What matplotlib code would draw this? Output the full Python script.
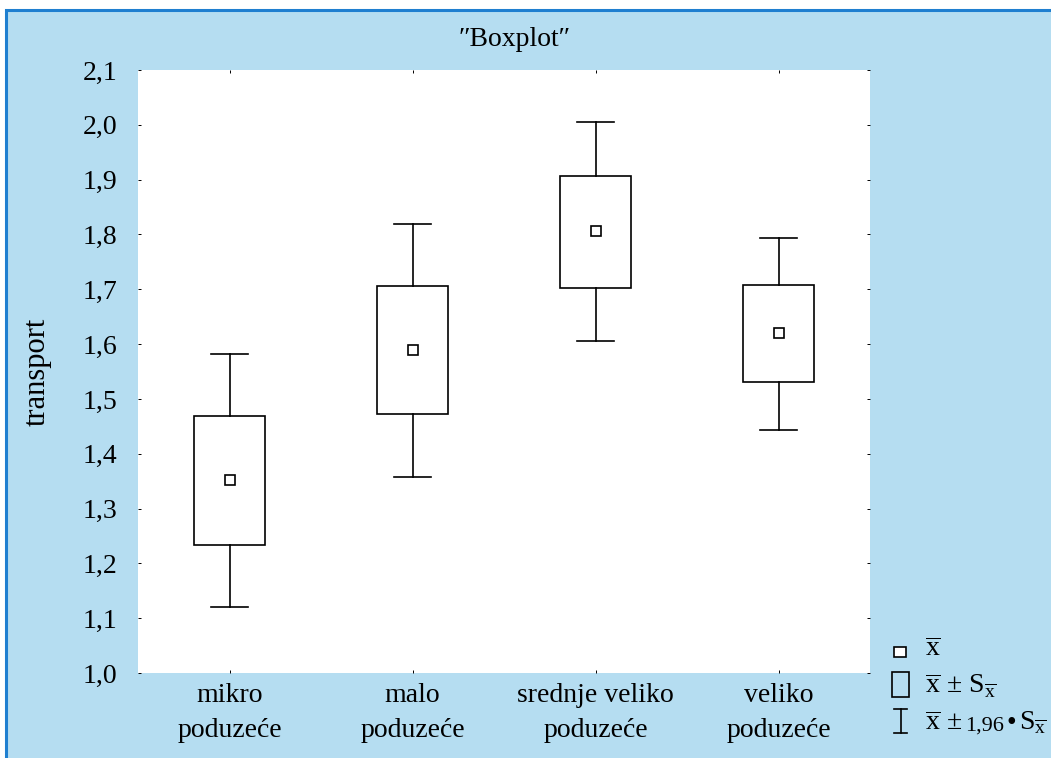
import numpy as np
import matplotlib.pyplot as plt
from matplotlib.patches import Rectangle
from matplotlib.offsetbox import TextArea, HPacker, AnnotationBbox

# Data
categories = ['mikro\npoduzeće', 'malo\npoduzeće', 'srednje veliko\npoduzeće', 'veliko\npoduzeće']
means = [1.352, 1.589, 1.806, 1.620]
box_low = [1.233, 1.472, 1.703, 1.531]
box_high = [1.469, 1.706, 1.907, 1.708]
whisk_low = [1.120, 1.357, 1.606, 1.444]
whisk_high = [1.582, 1.819, 2.005, 1.793]
y_ticks = [1.0, 1.1, 1.2, 1.3, 1.4, 1.5, 1.6, 1.7, 1.8, 1.9, 2.0, 2.1]

BG = '#B5DDF1'
EDGE = '#1F7FD0'
W, H = 1051, 758

plt.rcParams['font.family'] = ['Liberation Serif', 'DejaVu Serif']
plt.rcParams['mathtext.fontset'] = 'custom'
plt.rcParams['mathtext.rm'] = 'Liberation Serif'
plt.rcParams['mathtext.it'] = 'Liberation Serif:italic'

fig = plt.figure(figsize=(W / 100, H / 100), dpi=100, facecolor='white')

# light blue panel with darker border on top/left
fig.patches.append(Rectangle((6 / W, -0.05), 1.1, 1 - 10 / H + 0.05,
                             transform=fig.transFigure, facecolor=BG,
                             edgecolor=EDGE, linewidth=2.2, zorder=-10))

ax = fig.add_axes([138 / W, 1 - 673 / H, 732 / W, 603 / H])
ax.set_facecolor('white')
for s in ax.spines.values():
    s.set_visible(False)

x = np.arange(1, len(categories) + 1)
box_w = 0.39
cap_w = 0.2
for xi, m, bl, bh, wl, wh in zip(x, means, box_low, box_high, whisk_low, whisk_high):
    ax.add_patch(Rectangle((xi - box_w / 2, bl), box_w, bh - bl,
                           facecolor='white', edgecolor='black', linewidth=1.2, zorder=2))
    ax.plot([xi, xi], [bh, wh], color='black', lw=1.2, zorder=2)
    ax.plot([xi, xi], [wl, bl], color='black', lw=1.2, zorder=2)
    ax.plot([xi - cap_w / 2, xi + cap_w / 2], [wh, wh], color='black', lw=1.2, zorder=2)
    ax.plot([xi - cap_w / 2, xi + cap_w / 2], [wl, wl], color='black', lw=1.2, zorder=2)
ax.plot(x, means, linestyle='none', marker='s', markersize=7,
        markerfacecolor='white', markeredgecolor='black', markeredgewidth=1.2, zorder=3)

ax.set_xlim(0.5, 4.5)
ax.set_ylim(1.0, 2.1)
ax.set_xticks(x)
ax.set_xticklabels(categories, fontsize=20, linespacing=1.55)
ax.set_yticks(y_ticks)
ax.set_yticklabels([f'{v:.1f}'.replace('.', ',') for v in y_ticks], fontsize=20)
ax.tick_params(axis='both', direction='in', length=2.5, width=0.7,
               top=True, right=True)
ax.tick_params(axis='y', pad=15)
ax.tick_params(axis='x', pad=7)
ax.set_ylabel('transport', fontsize=22, labelpad=22)
fig.text(515 / W, 1 - 40 / H, '″Boxplot″', fontsize=20, ha='center', va='center')

# legend drawn in figure pixels
def fx(px):
    return px / W

def fy(py):
    return 1 - py / H

fig.patches.append(Rectangle((fx(894), fy(657)), 12 / W, 10 / H, transform=fig.transFigure,
                             facecolor='white', edgecolor='black', lw=1.2))
fig.patches.append(Rectangle((fx(892), fy(697)), 17 / W, 25 / H, transform=fig.transFigure,
                             facecolor='none', edgecolor='black', lw=1.2))
fig.lines.append(plt.Line2D([fx(900.5), fx(900.5)], [fy(709), fy(733)], transform=fig.transFigure,
                            color='black', lw=1.2))
fig.lines.append(plt.Line2D([fx(894), fx(907)], [fy(709), fy(709)], transform=fig.transFigure,
                            color='black', lw=1.2))
fig.lines.append(plt.Line2D([fx(894), fx(907)], [fy(733), fy(733)], transform=fig.transFigure,
                            color='black', lw=1.2))
fig.text(fx(925), fy(650), r'$\overline{\mathrm{x}}$', fontsize=20, va='center')
fig.text(fx(925), fy(686), r'$\overline{\mathrm{x}}\,\pm\,\mathrm{S}_{\overline{\mathrm{x}}}$',
         fontsize=20, va='center')
parts = HPacker(children=[
    TextArea(r'$\overline{\mathrm{x}}\,\pm$', textprops=dict(fontsize=20)),
    TextArea('1,96', textprops=dict(fontsize=16)),
    TextArea('\u2022', textprops=dict(fontsize=20)),
    TextArea(r'$\mathrm{S}_{\overline{\mathrm{x}}}$', textprops=dict(fontsize=20)),
], align='baseline', pad=0, sep=2)
fig.add_artist(AnnotationBbox(parts, (fx(925), fy(723)), xycoords='figure fraction',
                              box_alignment=(0, 0.5), frameon=False, pad=0))

fig.savefig('out.png', dpi=100, facecolor=fig.get_facecolor())
